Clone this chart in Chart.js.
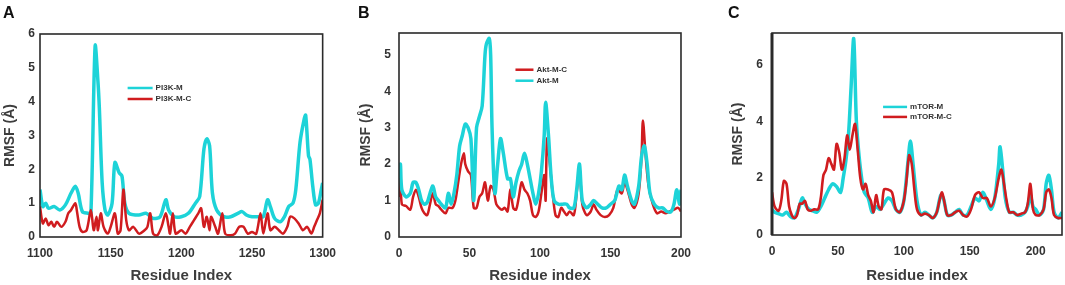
<!DOCTYPE html>
<html>
<head>
<meta charset="utf-8">
<script src="https://cdn.jsdelivr.net/npm/chart.js@4.4.1/dist/chart.umd.min.js"></script>
<style>
html,body{margin:0;padding:0;background:#fff;width:1065px;height:285px;overflow:hidden;font-family:"Liberation Sans",Arial,sans-serif;}
.panel{position:absolute;top:0;height:285px;}
.lbl{position:absolute;font:bold 16px/16px "Liberation Sans",Arial,sans-serif;color:#111;}
</style>
</head>
<body>
<div class="panel" style="left:0;width:345px"><canvas id="cA" width="345" height="285"></canvas></div>
<div class="panel" style="left:355px;width:345px"><canvas id="cB" width="345" height="285"></canvas></div>
<div class="panel" style="left:710px;width:355px"><canvas id="cC" width="355" height="285"></canvas></div>
<div class="lbl" style="left:3px;top:5px">A</div>
<div class="lbl" style="left:358px;top:5px">B</div>
<div class="lbl" style="left:728px;top:5px">C</div>
<script>
// ---------- Panel A : PI3K ----------
const aTicksX = [1100, 1150, 1200, 1250, 1300];
const aTicksY = [0, 1, 2, 3, 4, 5, 6];
const aMx = [1100,1102,1104,1106,1110,1114,1118,1122,1125,1127,1130,1134,1136,1139,1141,1142,1144,1146,1148,1151,1153,1156,1158,1160,1163,1170,1175,1180,1185,1189,1191,1195,1200,1205,1210,1213,1216,1218,1220,1222,1225,1230,1235,1240,1243,1246,1250,1255,1258,1261,1263,1266,1270,1273,1276,1279,1281,1284,1287,1288,1290,1291,1293,1295,1297,1299,1300];
const aMy = [1.4,0.9,1.0,0.85,0.9,0.8,0.95,1.3,1.5,1.3,0.75,0.7,0.7,5.65,4.6,3.8,1.6,0.8,0.65,1.0,2.2,1.9,1.8,1.0,0.7,0.65,0.7,0.55,0.6,1.1,0.8,0.6,0.6,0.7,1.0,1.2,2.6,2.9,2.7,1.3,0.8,0.6,0.6,0.7,0.75,0.65,0.6,0.6,0.6,1.1,0.9,0.55,0.45,0.6,0.9,1.0,1.4,2.8,3.5,3.6,2.4,2.3,1.5,0.95,1.0,1.4,1.6];
const aCx = [1100,1102,1104,1106,1108,1110,1112,1115,1118,1120,1122,1125,1126,1128,1130,1133,1136,1138,1140,1141,1143,1145,1148,1150,1153,1155,1157,1159,1161,1163,1166,1170,1174,1176,1178,1180,1183,1186,1189,1191,1192,1194,1196,1200,1203,1206,1209,1212,1214,1216,1218,1220,1221,1224,1226,1229,1231,1235,1238,1241,1244,1247,1250,1253,1256,1258,1261,1263,1266,1269,1272,1275,1277,1280,1283,1286,1289,1292,1294,1296,1298,1300];
const aCy = [0.9,0.4,0.55,0.35,0.45,0.3,0.45,0.3,0.45,0.7,0.8,1.0,0.8,0.3,0.15,0.2,0.8,0.2,0.6,0.2,0.7,0.3,0.1,0.3,0.7,0.1,0.2,1.4,0.5,0.2,0.3,0.1,0.2,0.3,0.7,0.1,0.05,0.3,0.7,0.3,0.1,0.7,0.1,0.2,0.1,0.3,0.5,0.7,0.85,0.3,0.6,0.2,0.6,0.3,0.1,0.7,0.1,0.05,0.1,0.3,0.3,0.1,0.15,0.1,0.7,0.1,0.7,0.2,0.3,0.2,0.1,0.3,0.6,0.55,0.4,0.2,0.3,0.1,0.3,0.5,0.7,1.1];

// ---------- Panel B : Akt ----------
const bTicksX = [0, 50, 100, 150, 200];
const bTicksY = [0, 1, 2, 3, 4, 5];
const bMx = [0,1,2,5,8,10,12,14,16,18,20,22,24,26,28,30,33,35,37,39,41,43,45,47,49,51,53,55,57,59,61,62,64,65,66,68,70,72,74,77,79,81,83,85,87,89,91,93,95,97,99,101,103,104,106,108,110,113,116,119,121,124,126,128,130,133,136,138,141,144,147,150,153,156,158,160,162,165,167,170,172,174,176,178,181,184,187,190,193,195,197,199,200];
const bMy = [1.6,2.0,1.3,1.1,1.2,1.5,1.5,1.3,1.0,0.9,0.95,1.2,1.4,1.1,1.0,0.9,0.8,1.2,0.9,1.2,1.7,2.5,2.8,3.1,3.0,2.7,1.0,3.0,3.3,3.6,5.0,5.3,5.45,5.0,3.0,1.2,2.0,2.7,2.3,1.6,1.6,1.1,1.5,1.8,2.0,2.3,2.0,1.6,1.2,0.9,1.2,1.8,2.8,3.7,2.8,1.6,1.0,0.9,0.9,0.9,0.8,0.8,1.3,2.0,1.0,0.8,0.9,1.0,0.9,0.8,0.8,0.9,1.0,1.4,1.3,1.7,1.4,1.0,0.9,1.4,2.2,2.5,2.0,1.2,0.9,0.8,0.8,0.7,0.7,0.9,1.3,0.9,1.3];
const bCx = [0,1,2,5,8,10,12,14,16,18,20,22,24,26,28,30,33,35,38,40,42,44,46,47,49,51,53,55,57,59,61,63,65,67,69,71,73,75,77,79,81,83,85,87,89,91,93,95,97,99,101,103,104,105,107,109,111,113,115,117,119,121,124,126,128,130,133,136,138,140,143,146,149,152,155,158,160,162,165,167,170,172,173,175,177,180,183,186,189,192,195,198,200];
const bCy = [1.1,1.7,0.9,0.85,0.75,1.1,1.3,1.1,0.8,0.65,0.6,0.9,1.2,0.9,0.85,0.75,0.65,0.8,0.8,1.0,1.5,2.0,2.3,2.0,1.8,1.7,0.8,0.8,1.1,1.2,1.5,1.0,1.4,1.3,0.9,0.8,0.75,0.8,0.7,1.3,0.8,0.75,1.1,1.5,1.3,1.2,1.0,0.6,0.55,0.7,1.2,1.7,1.0,2.7,2.0,1.2,0.6,0.55,0.8,0.7,0.6,0.7,0.6,1.2,1.9,0.9,0.6,0.7,0.9,0.75,0.6,0.55,0.6,0.8,1.3,1.2,1.5,1.3,0.9,0.8,1.2,2.2,3.2,2.2,1.4,0.9,0.65,0.7,0.65,0.7,0.75,0.8,0.7];

// ---------- Panel C : mTOR ----------
const cTicksX = [0, 50, 100, 150, 200];
const cTicksY = [0, 2, 4, 6];
const cMx = [0,2,5,8,11,14,17,20,23,25,28,31,34,37,40,43,46,49,52,54,56,58,60,62,64,66,68,70,73,76,79,82,85,88,91,94,97,100,103,105,107,110,113,116,119,122,125,128,130,133,136,139,142,145,148,151,154,157,160,163,166,169,172,173,175,177,180,183,186,189,192,194,196,198,200,203,206,208,210,212,214,217,220];
const cMy = [0.9,0.8,0.75,0.7,0.8,0.65,0.6,0.9,1.3,1.1,0.9,0.85,0.8,1.0,1.3,1.6,1.8,1.7,1.5,2.0,2.6,3.5,5.2,6.9,4.0,2.8,2.0,1.5,1.3,0.8,1.0,0.9,1.1,1.3,1.2,0.9,0.8,1.2,2.5,3.3,2.5,1.2,0.7,0.8,0.7,0.6,0.8,1.4,1.3,0.7,0.7,0.8,0.9,0.7,0.7,1.0,1.3,1.2,1.5,1.2,0.9,1.3,2.5,3.1,2.3,1.3,0.8,0.8,0.7,0.7,0.8,1.0,1.4,1.0,0.9,0.7,0.9,1.8,2.1,1.6,0.8,0.6,0.8];
const cCx = [0,2,5,7,9,11,13,15,17,19,21,23,25,27,29,32,35,37,39,41,43,45,47,49,51,53,55,57,59,61,63,65,67,69,71,73,75,77,79,81,83,85,88,91,94,97,100,102,104,106,108,110,113,116,119,122,125,127,129,131,133,136,139,142,145,148,151,154,157,160,163,166,169,172,174,176,178,180,183,186,189,192,194,196,198,200,203,206,208,210,212,214,217,220];
const cCy = [1.5,1.0,0.85,1.2,1.9,1.8,1.0,0.7,0.6,0.7,1.1,1.1,1.2,0.9,0.85,0.9,0.9,1.3,2.1,2.3,2.7,2.5,2.3,3.2,2.9,2.3,2.7,3.5,3.0,3.5,3.9,3.0,2.0,1.6,1.8,1.4,1.2,0.8,1.4,1.0,0.9,1.6,1.6,1.5,0.9,0.8,1.2,1.9,2.8,2.5,1.6,0.9,0.7,0.75,0.7,0.6,0.8,1.2,1.5,1.1,0.7,0.7,0.8,0.85,0.7,0.65,0.9,1.4,1.5,1.3,1.3,1.0,1.3,2.0,2.3,1.8,1.2,0.8,0.8,0.7,0.75,0.8,1.1,1.8,0.9,0.7,0.7,0.9,1.5,1.6,1.3,0.7,0.6,0.6];

const CYAN = '#1dd3d8';
const RED = '#d01c1f';
const FONT = '"Liberation Sans", Arial, sans-serif';

const pts = (xs, ys) => xs.map((x, i) => ({x: x, y: ys[i]}));

const framePlugin = {
  id: 'frame',
  afterDatasetsDraw(chart, args, o) {
    const ctx = chart.ctx, a = chart.chartArea;
    ctx.save();
    ctx.strokeStyle = '#2a2a2a';
    ctx.lineWidth = 1.6;
    ctx.strokeRect(a.left, a.top, a.right - a.left, a.bottom - a.top);
    if (o.leftWidth) {
      ctx.lineWidth = o.leftWidth;
      ctx.beginPath(); ctx.moveTo(a.left, a.top); ctx.lineTo(a.left, a.bottom); ctx.stroke();
    }
    const x0 = a.left + o.fx * (a.right - a.left);
    const y0 = a.top + o.fy * (a.bottom - a.top);
    chart.data.datasets.forEach((ds, i) => {
      const y = y0 + i * o.row;
      ctx.strokeStyle = ds.borderColor;
      ctx.lineWidth = 2.5;
      ctx.beginPath(); ctx.moveTo(x0, y); ctx.lineTo(x0 + o.len, y); ctx.stroke();
      ctx.fillStyle = '#333';
      ctx.font = 'bold 8px ' + FONT;
      ctx.textBaseline = 'middle';
      ctx.textAlign = 'left';
      ctx.fillText(ds.label, x0 + o.len + 3, y);
    });
    ctx.restore();
  }
};

function makeChart(id, cfg) {
  const tickSet = vals => (s => { s.ticks = vals.map(v => ({value: v})); });
  return new Chart(document.getElementById(id), {
    type: 'line',
    data: { datasets: cfg.datasets.map(d => ({
      label: d.label, data: d.data, borderColor: d.color, backgroundColor: d.color,
      borderWidth: d.width, pointRadius: 0, tension: 0.3, fill: false, order: d.order
    })) },
    options: {
      responsive: false, animation: false, devicePixelRatio: 1,
      layout: { padding: { left: 0, top: cfg.top, right: cfg.right, bottom: 0 } },
      plugins: { legend: { display: false }, tooltip: { enabled: false }, frame: cfg.legend },
      scales: {
        x: {
          type: 'linear', min: cfg.xmin, max: cfg.xmax,
          afterBuildTicks: tickSet(cfg.xticks),
          afterFit: s => { s.height = cfg.xh; },
          grid: { display: false, drawTicks: false }, border: { display: false },
          ticks: { padding: 9, color: '#333', font: { family: FONT, size: 12, weight: 'bold' }, maxRotation: 0,
                   callback: v => String(v) },
          title: { display: true, text: cfg.xtitle, color: '#3d3d3d', padding: { top: 0, bottom: 0 },
                   font: { family: FONT, size: 15, weight: 'bold' } }
        },
        y: {
          type: 'linear', min: 0, max: cfg.ymax,
          afterBuildTicks: tickSet(cfg.yticks),
          afterFit: s => { s.width = cfg.yw; },
          grid: { display: false, drawTicks: false }, border: { display: false },
          ticks: { padding: cfg.ypad, color: '#333', font: { family: FONT, size: 12, weight: 'bold' },
                   callback: v => String(v) },
          title: { display: true, text: 'RMSF (Å)', color: '#3d3d3d', padding: { top: cfg.ytp, bottom: 0 },
                   font: { family: FONT, size: 14, weight: 'bold' } }
        }
      }
    },
    plugins: [framePlugin]
  });
}

makeChart('cA', {
  datasets: [
    { label: 'PI3K-M', data: pts(aMx, aMy), color: CYAN, width: 3.5, order: 1 },
    { label: 'PI3K-M-C', data: pts(aCx, aCy), color: RED, width: 2.5, order: 0 }
  ],
  top: 34, right: 16, xh: 48, yw: 40, ypad: 5, ytp: 2,
  xmin: 1100, xmax: 1300, xticks: aTicksX, ymax: 6, yticks: aTicksY,
  xtitle: 'Residue Index',
  legend: { fx: 0.31, fy: 0.266, row: 11, len: 25 }
});

makeChart('cB', {
  datasets: [
    { label: 'Akt-M-C', data: pts(bCx, bCy), color: RED, width: 2.5, order: 1 },
    { label: 'Akt-M', data: pts(bMx, bMy), color: CYAN, width: 3.5, order: 0 }
  ],
  top: 33, right: 13, xh: 48, yw: 44, ypad: 8, ytp: 3,
  xmin: 0, xmax: 200, xticks: bTicksX, ymax: 5.6, yticks: bTicksY,
  xtitle: 'Residue index',
  legend: { fx: 0.413, fy: 0.18, row: 11, len: 18 }
});

makeChart('cC', {
  datasets: [
    { label: 'mTOR-M', data: pts(cMx, cMy), color: CYAN, width: 3.5, order: 1 },
    { label: 'mTOR-M-C', data: pts(cCx, cCy), color: RED, width: 2.6, order: 0 }
  ],
  top: 33, right: 3, xh: 50, yw: 62, ypad: 9, ytp: 20,
  xmin: 0, xmax: 220, xticks: cTicksX, ymax: 7.1, yticks: cTicksY,
  xtitle: 'Residue index',
  legend: { fx: 0.383, fy: 0.366, row: 10, len: 24, leftWidth: 3 }
});
</script>
</body>
</html>
